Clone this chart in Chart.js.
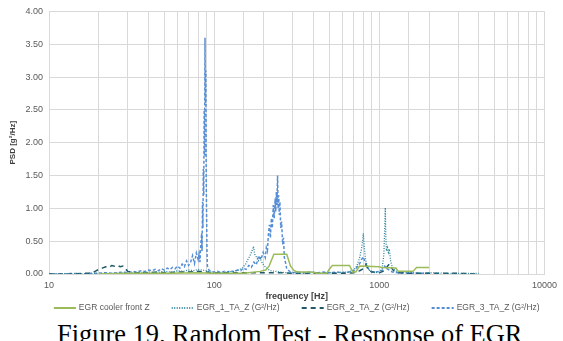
<!DOCTYPE html>
<html>
<head>
<meta charset="utf-8">
<script src="https://cdn.jsdelivr.net/npm/chart.js@4/dist/chart.umd.min.js"></script>
<style>
  html, body { margin: 0; padding: 0; background: #fff; }
  body { width: 563px; height: 341px; overflow: hidden; position: relative; }
  #wrap { position: relative; width: 563px; height: 318px; }
  #caption {
    position: absolute; left: 57px; top: 319px; white-space: nowrap;
    font-family: "Liberation Serif", "Times New Roman", serif; font-size: 26.4px; color: #000;
  }
</style>
</head>
<body>
<div id="wrap"><canvas id="psdChart"></canvas></div>
<div id="caption">Figure 19. Random Test - Response of EGR</div>
<script>
// series names
const seriesNames = ['EGR cooler front Z', 'EGR_1_TA_Z (G²/Hz)', 'EGR_2_TA_Z (G²/Hz)', 'EGR_3_TA_Z (G²/Hz)'];
const xTickLabels = [10, 100, 1000, 10000];
const yTickLabels = [0, 0.5, 1, 1.5, 2, 2.5, 3, 3.5, 4];

// EGR cooler front Z
const coolerFreq = [20, 30, 50, 80, 100, 150, 190, 205, 215, 230, 275, 290, 305, 320, 390, 420, 480, 500, 520, 660, 690, 720, 740, 760, 1000, 1030, 1260, 1300, 1600, 1680, 2000];
const coolerPsd  = [0.00, 0.01, 0.01, 0.02, 0.01, 0.01, 0.04, 0.06, 0.12, 0.30, 0.30, 0.12, 0.05, 0.03, 0.03, 0.01, 0.01, 0.08, 0.13, 0.13, 0.03, 0.03, 0.08, 0.12, 0.11, 0.10, 0.09, 0.04, 0.04, 0.10, 0.10];

// EGR_1_TA_Z
const egr1Freq = [10, 15, 20, 25, 30, 35, 40, 45, 50, 55, 60, 65, 70, 75, 80, 85, 90, 95, 100, 110, 120, 130, 140, 148, 155, 160, 165, 170, 173, 176, 180, 185, 190, 196, 202, 210, 220, 235, 250, 270, 300, 350, 400, 450, 500, 550, 600, 650, 700, 730, 760, 780, 790, 800, 810, 825, 845, 870, 900, 950, 1000, 1040, 1065, 1080, 1087, 1095, 1105, 1120, 1135, 1150, 1170, 1200, 1250, 1300, 1400, 1600, 1800, 2000, 2500, 3000, 3500, 4000];
const egr1Psd  = [0.00, 0.00, 0.01, 0.01, 0.02, 0.02, 0.03, 0.02, 0.04, 0.03, 0.05, 0.04, 0.06, 0.05, 0.07, 0.06, 0.05, 0.03, 0.02, 0.02, 0.03, 0.04, 0.06, 0.09, 0.15, 0.22, 0.28, 0.36, 0.42, 0.30, 0.26, 0.20, 0.24, 0.16, 0.12, 0.08, 0.05, 0.04, 0.03, 0.02, 0.02, 0.01, 0.02, 0.01, 0.02, 0.02, 0.03, 0.03, 0.06, 0.12, 0.25, 0.38, 0.48, 0.62, 0.42, 0.22, 0.12, 0.06, 0.03, 0.02, 0.03, 0.08, 0.30, 0.75, 1.01, 0.55, 0.35, 0.40, 0.33, 0.38, 0.20, 0.10, 0.05, 0.03, 0.02, 0.02, 0.01, 0.02, 0.01, 0.01, 0.01, 0.01];

// EGR_2_TA_Z
const egr2Freq = [10, 12, 14, 16, 18, 19, 20, 21, 22, 23, 24, 25, 26, 27, 28, 29, 30, 33, 36, 40, 45, 50, 60, 70, 80, 90, 100, 120, 150, 200, 250, 300, 400, 500, 600, 700, 760, 800, 830, 860, 900, 1000, 1080, 1120, 1150, 1180, 1220, 1300, 1500, 2000, 2500, 3000, 4000];
const egr2Psd  = [0.00, 0.00, 0.00, 0.01, 0.01, 0.04, 0.07, 0.09, 0.11, 0.10, 0.13, 0.12, 0.13, 0.11, 0.12, 0.08, 0.04, 0.02, 0.02, 0.02, 0.03, 0.02, 0.03, 0.03, 0.04, 0.03, 0.02, 0.02, 0.02, 0.02, 0.02, 0.01, 0.01, 0.01, 0.01, 0.02, 0.05, 0.08, 0.14, 0.06, 0.03, 0.02, 0.05, 0.12, 0.15, 0.10, 0.05, 0.02, 0.01, 0.01, 0.01, 0.01, 0.00];

// EGR_3_TA_Z
const egr3Freq = [10, 12, 14, 16, 18, 20, 22, 24, 26, 28, 30, 32, 34, 36, 38, 40, 42, 44, 46, 48, 50, 52, 54, 56, 58, 60, 62, 64, 66, 68, 70, 72, 74, 76, 78, 80, 81, 82, 83, 84, 84.5, 85, 85.5, 86, 86.5, 87, 87.5, 88, 88.5, 89, 89.5, 90, 90.5, 91, 93, 96, 100, 105, 110, 115, 120, 126, 132, 138, 145, 150, 156, 162, 168, 174, 180, 186, 192, 198, 204, 207, 210, 213, 216, 219, 222, 225, 228, 231, 234, 236, 238, 240, 242, 244, 246, 248, 250, 253, 256, 260, 263, 266, 270, 275, 280, 290, 300, 320, 350, 380, 420, 460, 500, 550, 600, 650, 700, 730, 760, 780, 800, 820, 840, 870, 900, 950, 1000, 1050, 1080, 1100, 1130, 1160, 1200, 1300, 1400, 1500, 1700, 2000];
const egr3Psd  = [0.00, 0.00, 0.01, 0.00, 0.01, 0.01, 0.02, 0.01, 0.02, 0.03, 0.02, 0.04, 0.03, 0.05, 0.04, 0.06, 0.05, 0.07, 0.05, 0.08, 0.06, 0.09, 0.07, 0.10, 0.08, 0.12, 0.09, 0.15, 0.11, 0.20, 0.13, 0.18, 0.28, 0.16, 0.32, 0.22, 0.30, 0.18, 0.45, 0.62, 0.35, 1.10, 0.70, 1.60, 1.20, 2.50, 1.80, 3.60, 2.60, 3.10, 1.40, 0.90, 0.35, 0.12, 0.06, 0.04, 0.03, 0.04, 0.02, 0.04, 0.03, 0.05, 0.03, 0.06, 0.05, 0.09, 0.07, 0.13, 0.10, 0.18, 0.14, 0.28, 0.22, 0.33, 0.25, 0.40, 0.35, 0.60, 0.75, 0.55, 0.85, 0.70, 1.05, 0.85, 1.15, 0.95, 1.25, 1.05, 1.50, 1.00, 1.20, 0.90, 1.10, 0.70, 0.80, 0.45, 0.55, 0.25, 0.18, 0.08, 0.06, 0.03, 0.02, 0.03, 0.02, 0.03, 0.02, 0.03, 0.02, 0.03, 0.02, 0.03, 0.05, 0.10, 0.16, 0.22, 0.26, 0.18, 0.12, 0.06, 0.04, 0.03, 0.04, 0.06, 0.12, 0.09, 0.07, 0.05, 0.03, 0.02, 0.02, 0.01, 0.01, 0.01];

const toPoints = (xs, ys) => xs.map((x, i) => ({ x: x, y: ys[i] }));

const gridColor = '#d9d9d9';
const textColor = '#595959';
const fontFamily = '"Liberation Sans", Arial, sans-serif';

// axis titles + legend drawn by hand so they sit where the original has them
const overlay = {
  id: 'overlay',
  afterDraw(chart) {
    const { ctx, chartArea } = chart;
    const midX = (chartArea.left + chartArea.right) / 2;
    ctx.save();
    ctx.fillStyle = '#404040';
    ctx.textBaseline = 'middle';
    ctx.textAlign = 'center';
    ctx.font = 'bold 9px ' + fontFamily;
    ctx.fillText('frequency [Hz]', midX, 297);

    ctx.save();
    ctx.translate(13, (chartArea.top + chartArea.bottom) / 2);
    ctx.rotate(-Math.PI / 2);
    ctx.font = 'bold 8px ' + fontFamily;
    ctx.fillText('PSD [g²/Hz]', 0, 0);
    ctx.restore();

    // legend
    ctx.font = '8.5px ' + fontFamily;
    ctx.textAlign = 'left';
    const lineLen = 22, lineGap = 3, itemGap = 22;
    const items = chart.data.datasets.map(ds => ({ ds, w: ctx.measureText(ds.label).width }));
    const total = items.reduce((s, it) => s + lineLen + lineGap + it.w, 0) + itemGap * (items.length - 1);
    let x = midX - total / 2;
    const y = 308;
    items.forEach(({ ds, w }) => {
      ctx.beginPath();
      ctx.setLineDash(ds.borderDash || []);
      ctx.strokeStyle = ds.borderColor;
      ctx.lineWidth = ds.borderWidth + 0.5;
      ctx.moveTo(x, y);
      ctx.lineTo(x + lineLen, y);
      ctx.stroke();
      ctx.setLineDash([]);
      ctx.fillStyle = textColor;
      ctx.fillText(ds.label, x + lineLen + lineGap, y);
      x += lineLen + lineGap + w + itemGap;
    });
    ctx.restore();
  }
};

const ctx = document.getElementById('psdChart').getContext('2d');
new Chart(ctx, {
  type: 'line',
  data: {
    datasets: [
      { label: seriesNames[0], data: toPoints(coolerFreq, coolerPsd), borderColor: '#9bbb59', borderWidth: 1.5 },
      { label: seriesNames[1], data: toPoints(egr1Freq, egr1Psd), borderColor: '#31859c', borderWidth: 1.3, borderDash: [1, 1.5] },
      { label: seriesNames[2], data: toPoints(egr2Freq, egr2Psd), borderColor: '#215968', borderWidth: 1.5, borderDash: [5, 4] },
      { label: seriesNames[3], data: toPoints(egr3Freq, egr3Psd), borderColor: '#558ed5', borderWidth: 1.5, borderDash: [3, 2] }
    ]
  },
  plugins: [overlay],
  options: {
    responsive: true,
    maintainAspectRatio: false,
    animation: false,
    elements: { point: { radius: 0 }, line: { tension: 0 } },
    layout: { padding: { top: 2, right: 17, left: 0, bottom: 0 } },
    plugins: {
      tooltip: { enabled: false },
      legend: { display: false }
    },
    scales: {
      x: {
        type: 'logarithmic',
        min: 10,
        max: 10000,
        grid: { color: gridColor, drawTicks: false },
        border: { color: gridColor },
        afterFit: (scale) => { scale.height = 44; },
        ticks: {
          autoSkip: false,
          maxRotation: 0,
          padding: 6,
          color: textColor,
          font: { family: fontFamily, size: 9 },
          callback: (v) => xTickLabels.includes(v) ? String(v) : ''
        }
      },
      y: {
        min: 0,
        max: 4,
        grid: { color: gridColor, drawTicks: false },
        border: { color: gridColor },
        afterBuildTicks: (scale) => { scale.ticks = yTickLabels.map(v => ({ value: v })); },
        afterFit: (scale) => { scale.width = 49; },
        ticks: {
          padding: 6,
          color: textColor,
          font: { family: fontFamily, size: 9 },
          callback: (v) => v.toFixed(2)
        }
      }
    }
  }
});
</script>
</body>
</html>
